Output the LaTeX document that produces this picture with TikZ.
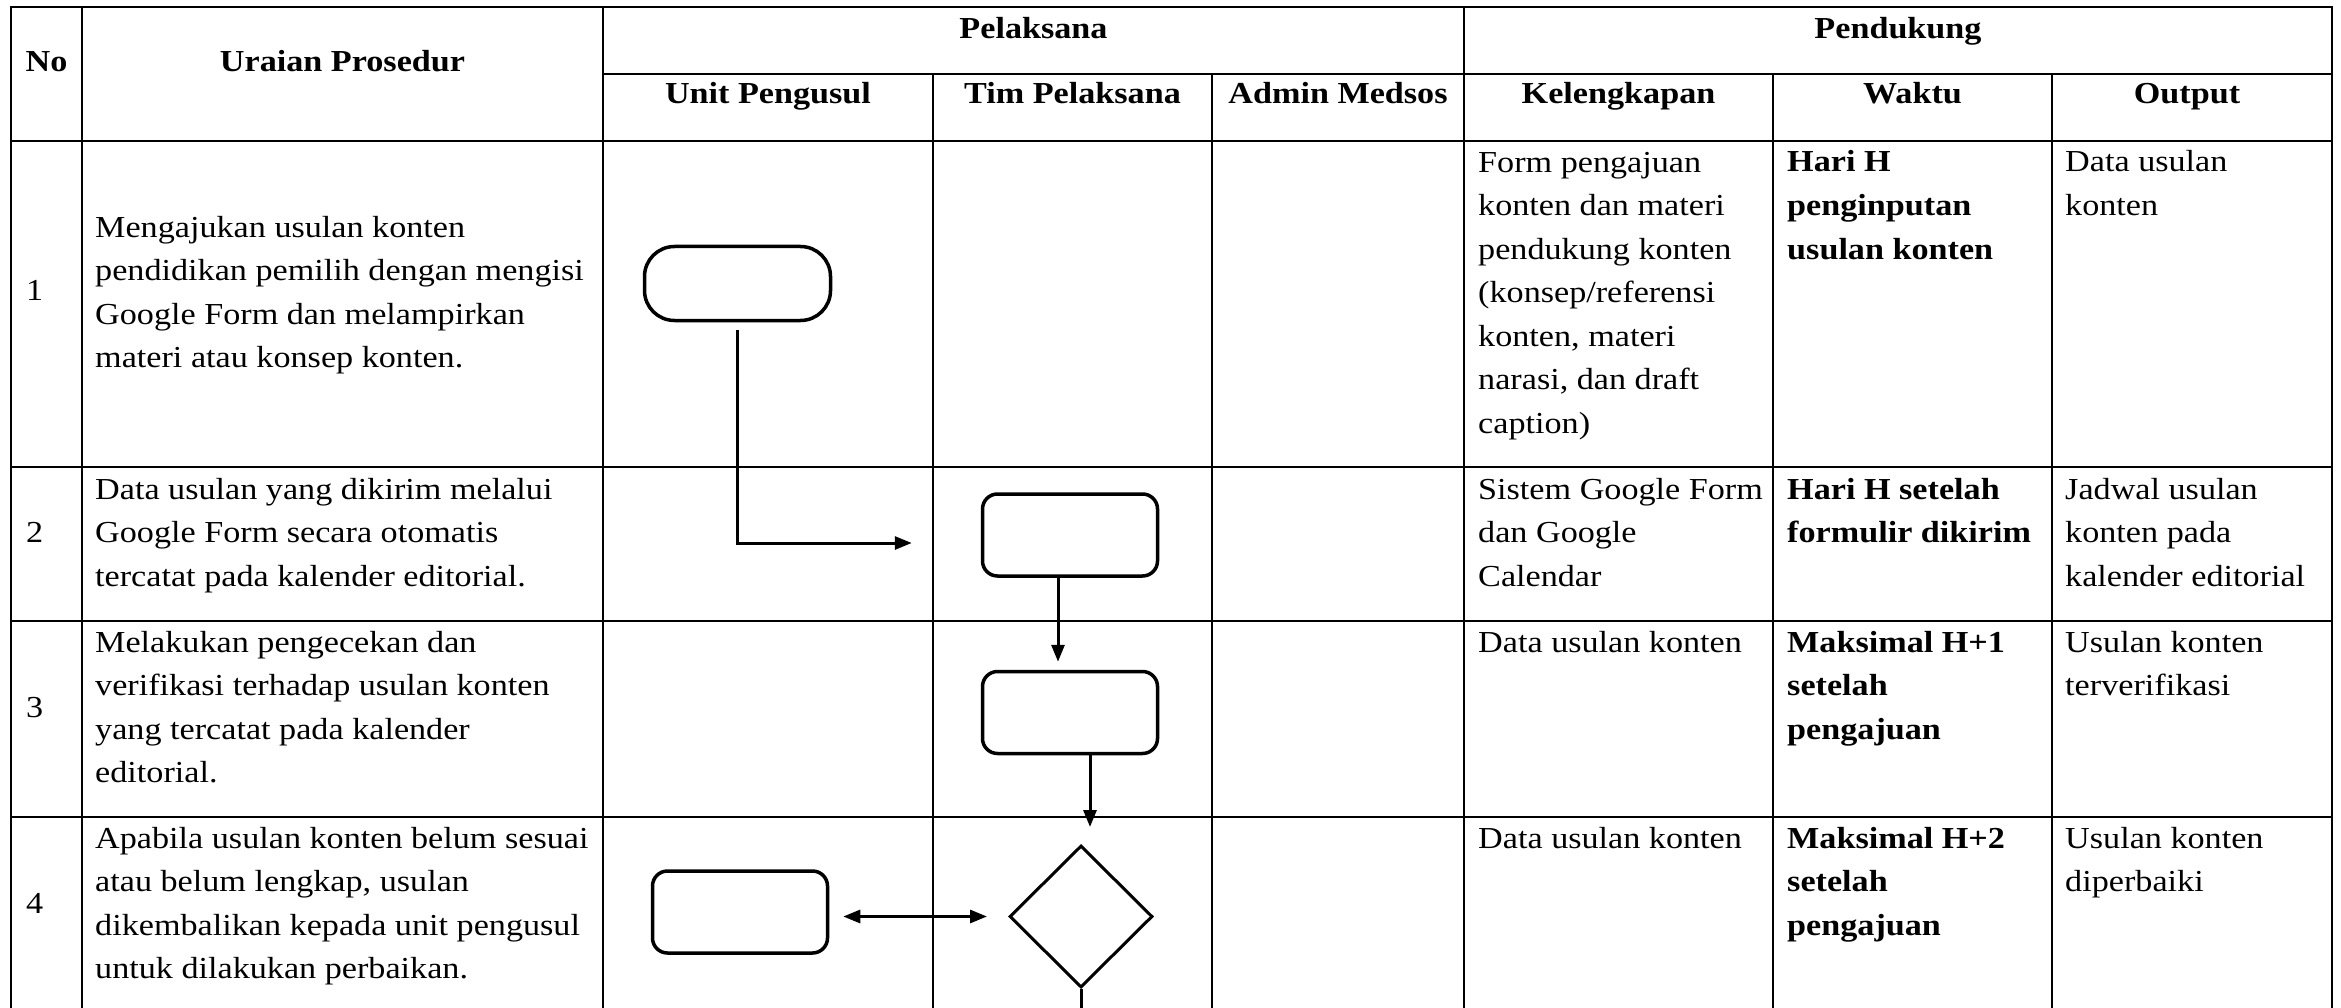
\documentclass[tikz,border=0pt]{standalone}
\usepackage{fontspec}
\setmainfont{Liberation Serif}[FakeStretch=1.12]
\usetikzlibrary{shapes.geometric, arrows.meta, positioning}
\tikzstyle{grid} = [line width=2pt]
\tikzstyle{txt} = [anchor=base west, align=left, inner sep=0pt,
                  font=\fontsize{30.5}{43.5}\selectfont]
\tikzstyle{txtb} = [txt, font=\fontsize{30.5}{43.5}\selectfont\bfseries]
\tikzstyle{head} = [anchor=base, inner sep=0pt, font=\fontsize{30.5}{43.5}\selectfont\bfseries]
\tikzstyle{terminal} = [rectangle, draw, rounded corners=30pt, line width=3.5pt,
                  minimum width=186pt, minimum height=74pt]
\tikzstyle{process} = [rectangle, draw, rounded corners=15pt, line width=3.5pt,
                  minimum width=175pt, minimum height=82pt]
\tikzstyle{decision} = [diamond, draw, line width=3pt, inner sep=0pt,
                  minimum width=143pt, minimum height=142pt]
\tikzstyle{line} = [draw, line width=3pt, -{Triangle[length=17pt,width=13pt]}]

\begin{document}
\begin{tikzpicture}[x=1pt, y=-1pt]
        \useasboundingbox (0,0) rectangle (2341,1008);
        \draw [grid] (11,1010) -- (11,7) -- (2332,7) -- (2332,1010);
        \draw [grid] (603,74) -- (2332,74);
        \draw [grid] (11,141) -- (2332,141);
        \draw [grid] (11,467) -- (2332,467);
        \draw [grid] (11,621) -- (2332,621);
        \draw [grid] (11,817) -- (2332,817);
        \draw [grid] (82,7) -- (82,1010);
        \draw [grid] (603,7) -- (603,1010);
        \draw [grid] (1464,7) -- (1464,1010);
        \draw [grid] (933,74) -- (933,1010);
        \draw [grid] (1212,74) -- (1212,1010);
        \draw [grid] (1773,74) -- (1773,1010);
        \draw [grid] (2052,74) -- (2052,1010);

        \node [head] (hNo) at (46.5,72) {No};
        \node [head] (hUraian) at (342.5,72) {Uraian Prosedur};
        \node [head] (hPelaksana) at (1033.5,39) {Pelaksana};
        \node [head] (hPendukung) at (1898,39) {Pendukung};
        \node [head] (hUnit) at (768,104) {Unit Pengusul};
        \node [head] (hTim) at (1072.5,104) {Tim Pelaksana};
        \node [head] (hAdmin) at (1338,104) {Admin Medsos};
        \node [head] (hKel) at (1618.5,104) {Kelengkapan};
        \node [head] (hWaktu) at (1912.5,104) {Waktu};
        \node [head] (hOutput) at (2187,104) {Output};

        \node [txt] (no1) at (26,300) {1};
        \node [txt] (ur1) at (95,367.5) {Mengajukan usulan konten\\pendidikan pemilih dengan mengisi\\Google Form dan melampirkan\\materi atau konsep konten.};
        \node [txt] (kel1) at (1478,433) {Form pengajuan\\konten dan materi\\pendukung konten\\(konsep/referensi\\konten, materi\\narasi, dan draft\\caption)};
        \node [txtb] (wkt1) at (1787,259) {Hari H\\penginputan\\usulan konten};
        \node [txt] (out1) at (2065,215.5) {Data usulan\\konten};

        \node [txt] (no2) at (26,542) {2};
        \node [txt] (ur2) at (95,586) {Data usulan yang dikirim melalui\\Google Form secara otomatis\\tercatat pada kalender editorial.};
        \node [txt] (kel2) at (1478,586) {Sistem Google Form\\dan Google\\Calendar};
        \node [txtb] (wkt2) at (1787,542.5) {Hari H setelah\\formulir dikirim};
        \node [txt] (out2) at (2065,586) {Jadwal usulan\\konten pada\\kalender editorial};

        \node [txt] (no3) at (26,717) {3};
        \node [txt] (ur3) at (95,782.5) {Melakukan pengecekan dan\\verifikasi terhadap usulan konten\\yang tercatat pada kalender\\editorial.};
        \node [txt] (kel3) at (1478,652) {Data usulan konten};
        \node [txtb] (wkt3) at (1787,739) {Maksimal H+1\\setelah\\pengajuan};
        \node [txt] (out3) at (2065,695.5) {Usulan konten\\terverifikasi};

        \node [txt] (no4) at (26,913) {4};
        \node [txt] (ur4) at (95,978.5) {Apabila usulan konten belum sesuai\\atau belum lengkap, usulan\\dikembalikan kepada unit pengusul\\untuk dilakukan perbaikan.};
        \node [txt] (kel4) at (1478,848) {Data usulan konten};
        \node [txtb] (wkt4) at (1787,935) {Maksimal H+2\\setelah\\pengajuan};
        \node [txt] (out4) at (2065,891.5) {Usulan konten\\diperbaiki};

        \node [terminal] (start) at (737.5,283.5) {};
        \node [process] (input) at (1070,535) {};
        \node [process] (verify) at (1070,712.5) {};
        \node [process] (revise) at (740,912) {};
        \node [decision] (check) at (1081,916.5) {};
        \coordinate (next) at (1081,1012);

        \draw [line, shorten <=8pt, shorten >=69pt] (start.south) |- ([yshift=-8pt]input.west);
        \draw [line, shorten >=8pt] ([xshift=-12pt]input.south) -- ([xshift=-12pt]verify.north);
        \draw [line, shorten >=17pt] ([xshift=20pt]verify.south) -- ([xshift=20pt]verify.south |- check.north);
        \draw [line, {Triangle[length=17pt,width=13pt]}-{Triangle[length=17pt,width=13pt]},
               shorten <=14pt, shorten >=21pt] (revise.east |- check.west) -- (check.west);
        \draw [line, -] (check.south) -- (next);
\end{tikzpicture}
\end{document}
